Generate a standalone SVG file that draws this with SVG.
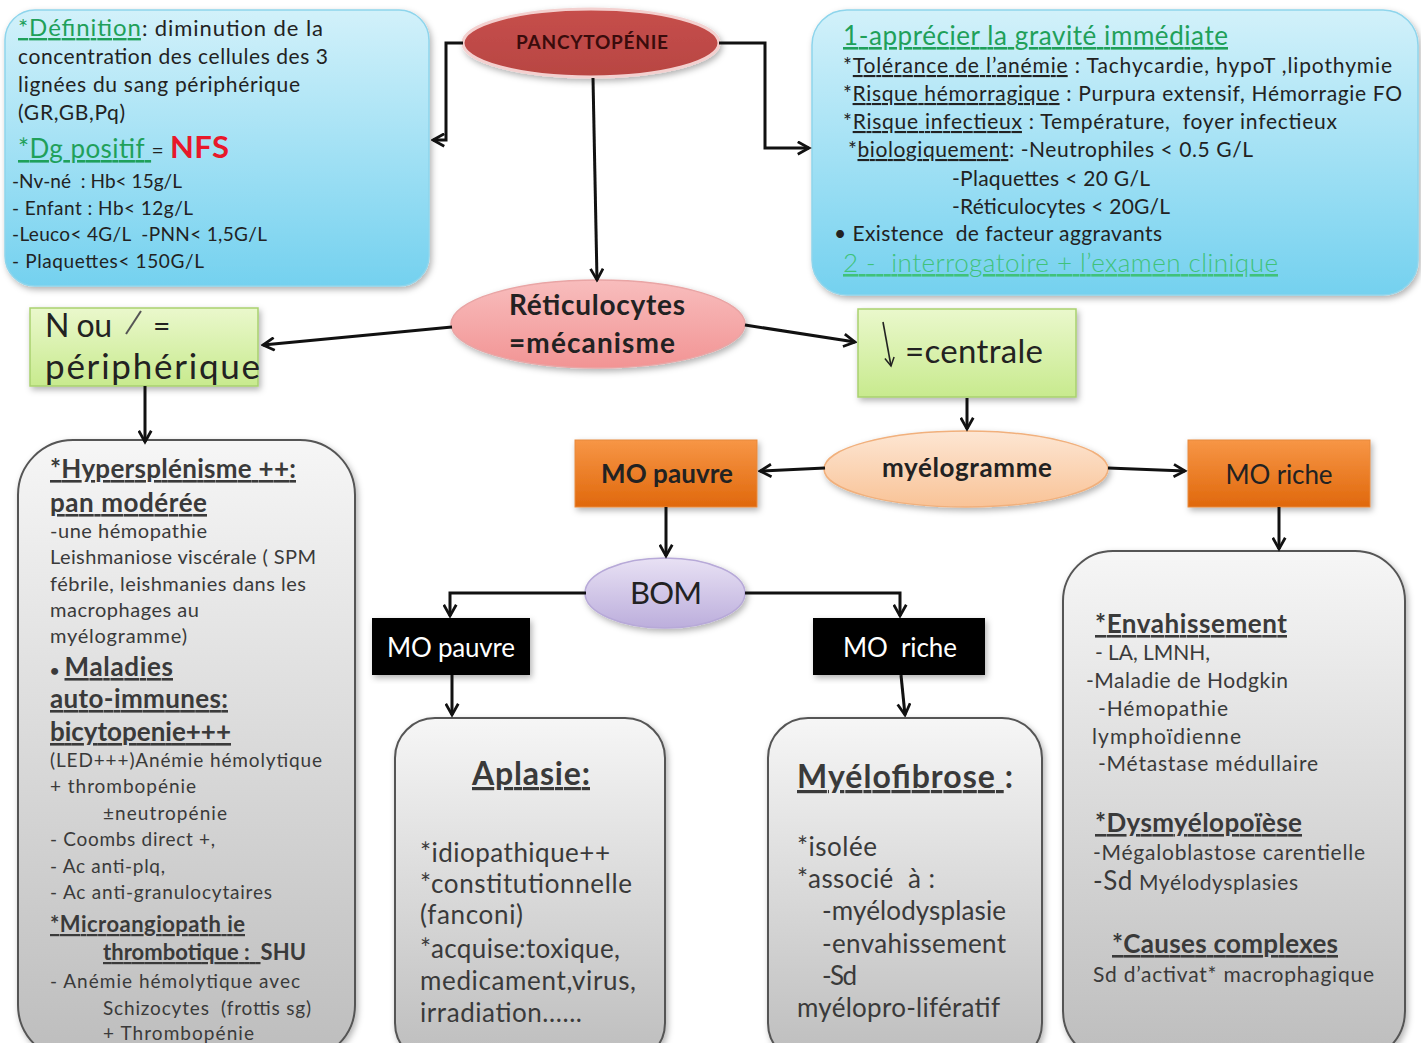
<svg xmlns="http://www.w3.org/2000/svg" width="1421" height="1043" viewBox="0 0 1421 1043">
<defs>
<linearGradient id="gBlue" x1="0" y1="0" x2="0" y2="1"><stop offset="0" stop-color="#d2f1fa"/><stop offset="1" stop-color="#74d1ef"/></linearGradient>
<linearGradient id="gRed" x1="0" y1="0" x2="0" y2="1"><stop offset="0" stop-color="#c64f4c"/><stop offset="1" stop-color="#b84542"/></linearGradient>
<linearGradient id="gPink" x1="0" y1="0" x2="0" y2="1"><stop offset="0" stop-color="#f8bdbd"/><stop offset="1" stop-color="#f29494"/></linearGradient>
<linearGradient id="gGreen" x1="0" y1="0" x2="0" y2="1"><stop offset="0" stop-color="#eaf8cc"/><stop offset="1" stop-color="#c8ea8e"/></linearGradient>
<linearGradient id="gPeach" x1="0" y1="0" x2="0" y2="1"><stop offset="0" stop-color="#fde6d3"/><stop offset="1" stop-color="#f9c397"/></linearGradient>
<linearGradient id="gOrange" x1="0" y1="0" x2="0" y2="1"><stop offset="0" stop-color="#f79646"/><stop offset="1" stop-color="#e0680c"/></linearGradient>
<linearGradient id="gLav" x1="0" y1="0" x2="0" y2="1"><stop offset="0" stop-color="#e8e1f4"/><stop offset="1" stop-color="#bcaedc"/></linearGradient>
<linearGradient id="gGray" x1="0" y1="0" x2="0" y2="1"><stop offset="0" stop-color="#f6f6f6"/><stop offset="1" stop-color="#bdbdbd"/></linearGradient>
<filter id="sh" x="-10%" y="-10%" width="120%" height="125%"><feDropShadow dx="2" dy="3" stdDeviation="3" flood-color="#000" flood-opacity="0.3"/></filter>
<marker id="arr" viewBox="0 0 12 12" refX="10" refY="6" markerWidth="5" markerHeight="5" orient="auto" markerUnits="strokeWidth">
<path d="M1,1 L10,6 L1,11" fill="none" stroke="#111" stroke-width="2.2" stroke-linejoin="miter"/>
</marker>
<marker id="arrs" viewBox="0 0 12 12" refX="10" refY="6" markerWidth="7" markerHeight="7" orient="auto" markerUnits="strokeWidth">
<path d="M1,1 L10,6 L1,11" fill="none" stroke="#222" stroke-width="1.6"/>
</marker>
</defs>
<style>
text{font-family:Lato,"Liberation Sans",sans-serif;fill:#222;}
.b{font-weight:bold;}
.u{text-decoration:underline;}
.g{fill:#1fa05a;}
.gray text,.gray{fill:#3a3a3a;}
.conn{fill:none;stroke:#111;stroke-width:3;marker-end:url(#arr);}
.blue{fill:url(#gBlue);stroke:#8ed5ec;stroke-width:1.5;filter:url(#sh);}
.grey{fill:url(#gGray);stroke:#555;stroke-width:2;filter:url(#sh);}
.green{fill:url(#gGreen);stroke:#a9d16f;stroke-width:1.5;filter:url(#sh);}
.orange{fill:url(#gOrange);stroke:#e88a3c;stroke-width:1;filter:url(#sh);}
.black{fill:#050505;filter:url(#sh);}
</style>

<g id="definition">
<rect class="blue" x="5" y="10" width="424" height="276" rx="30"/>
<text x="18" y="36" font-size="22" textLength="305"><tspan class="g u" font-size="24">*Définition</tspan><tspan>: diminution de la</tspan></text>
<text x="18" y="64" font-size="21" textLength="310">concentration des cellules des 3</text>
<text x="18" y="92" font-size="21" textLength="282">lignées du sang périphérique</text>
<text x="18" y="120" font-size="21" textLength="107">(GR,GB,Pq)</text>
<text x="18" y="158" font-size="26" textLength="211"><tspan class="g u">*Dg positif </tspan><tspan font-size="21"> = </tspan><tspan class="b" style="fill:#e8182a" font-size="31">NFS</tspan></text>
<text x="12" y="188" font-size="19" textLength="170" xml:space="preserve">-Nv-né  : Hb&lt; 15g/L</text>
<text x="12" y="215" font-size="19" textLength="181">- Enfant : Hb&lt; 12g/L</text>
<text x="12" y="241" font-size="19" textLength="255" xml:space="preserve">-Leuco&lt; 4G/L  -PNN&lt; 1,5G/L</text>
<text x="12" y="268" font-size="19" textLength="192">- Plaquettes&lt; 150G/L</text>
</g>

<g id="gravite">
<rect class="blue" x="812" y="10" width="606" height="285" rx="35"/>
<text x="843" y="45" font-size="26" class="g u" textLength="385">1-apprécier la gravité immédiate</text>
<text x="843" y="73" font-size="21" textLength="549">*<tspan class="u">Tolérance de l’anémie</tspan> : Tachycardie, hypoT ,lipothymie</text>
<text x="843" y="101" font-size="21" textLength="559">*<tspan class="u">Risque hémorragique</tspan> : Purpura extensif, Hémorragie FO</text>
<text x="843" y="129" font-size="21" textLength="494" xml:space="preserve">*<tspan class="u">Risque infectieux</tspan> : Température,  foyer infectieux</text>
<text x="848" y="157" font-size="21" textLength="405">*<tspan class="u">biologiquement</tspan>: -Neutrophiles &lt; 0.5 G/L</text>
<text x="952" y="186" font-size="21" textLength="198">-Plaquettes &lt; 20 G/L</text>
<text x="952" y="214" font-size="21" textLength="218">-Réticulocytes &lt; 20G/L</text>
<text x="834" y="241" font-size="21" textLength="328" xml:space="preserve">• Existence  de facteur aggravants</text>
<text x="843" y="272" font-size="26" class="u" style="fill:#3fc27a;font-weight:300" textLength="435" xml:space="preserve">2 -  interrogatoire + l’examen clinique</text>
</g>

<g id="pancytopenie">
<ellipse cx="591" cy="43" rx="128" ry="34" fill="url(#gRed)" stroke="#f3d0cf" stroke-width="3" filter="url(#sh)"/>
<text x="592" y="49" font-size="19" class="b" text-anchor="middle" style="fill:#3a0c0c" textLength="152">PANCYTOPÉNIE</text>
</g>

<g id="reticulocytes">
<ellipse cx="598" cy="324" rx="147" ry="44" fill="url(#gPink)" stroke="#e9a5a5" stroke-width="1.5" filter="url(#sh)"/>
<text x="597" y="315" font-size="28" class="b" text-anchor="middle" textLength="176">Réticulocytes</text>
<text x="592" y="353" font-size="28" class="b" text-anchor="middle" textLength="166">=mécanisme</text>
</g>

<g id="peripherique">
<rect class="green" x="30" y="308" width="228" height="78"/>
<text x="45" y="337" font-size="32" textLength="67">N ou</text>
<line x1="126" y1="334" x2="141" y2="311" stroke="#555" stroke-width="2"/>
<text x="153" y="337" font-size="30">=</text>
<text x="45" y="379" font-size="35" textLength="215">périphérique</text>
</g>

<g id="centrale">
<rect class="green" x="858" y="309" width="218" height="88"/>
<line x1="883" y1="322" x2="891" y2="366" stroke="#222" stroke-width="1.6" marker-end="url(#arrs)"/>
<text x="905" y="363" font-size="33" textLength="138">=centrale</text>
</g>

<g id="myelogramme">
<ellipse cx="966" cy="469" rx="142" ry="38" fill="url(#gPeach)" stroke="#f1b07c" stroke-width="1.5" filter="url(#sh)"/>
<text x="967" y="477" font-size="26" class="b" text-anchor="middle" textLength="170">myélogramme</text>
</g>

<g id="mo-pauvre-myelo">
<rect class="orange" x="575" y="440" width="182" height="67"/>
<text x="667" y="483" font-size="26" class="b" text-anchor="middle" textLength="132">MO pauvre</text>
</g>

<g id="mo-riche-myelo">
<rect class="orange" x="1188" y="440" width="182" height="67"/>
<text x="1279" y="484" font-size="26" text-anchor="middle" textLength="107">MO riche</text>
</g>

<g id="bom">
<ellipse cx="665" cy="593" rx="80" ry="35" fill="url(#gLav)" stroke="#b7a9d8" stroke-width="1.5" filter="url(#sh)"/>
<text x="666" y="604" font-size="31" text-anchor="middle" textLength="72">BOM</text>
</g>

<g id="mo-pauvre-bom">
<rect class="black" x="372" y="618" width="158" height="57"/>
<text x="451" y="657" font-size="26" text-anchor="middle" style="fill:#fff" textLength="128">MO pauvre</text>
</g>

<g id="mo-riche-bom">
<rect class="black" x="813" y="618" width="172" height="57"/>
<text x="900" y="657" font-size="26" text-anchor="middle" style="fill:#fff" xml:space="preserve" textLength="114">MO  riche</text>
</g>

<g id="hypersplenisme" class="gray">
<rect class="grey" x="18" y="440" width="337" height="620" rx="55"/>
<text x="50" y="478" font-size="26" class="b u" textLength="246">*Hypersplénisme ++:</text>
<text x="50" y="512" font-size="26" class="b u" textLength="157">pan modérée</text>
<text x="50" y="538" font-size="20" textLength="157">-une hémopathie</text>
<text x="50" y="564" font-size="20" textLength="266">Leishmaniose viscérale ( SPM</text>
<text x="50" y="591" font-size="20" textLength="256">fébrile, leishmanies dans les</text>
<text x="50" y="617" font-size="20" textLength="149">macrophages au</text>
<text x="50" y="643" font-size="20" textLength="137">myélogramme)</text>
<text x="50" y="676" font-size="26" class="b" textLength="123"><tspan font-size="16">• </tspan><tspan class="u">Maladies</tspan></text>
<text x="50" y="708" font-size="26" class="b u" textLength="178">auto-immunes:</text>
<text x="50" y="741" font-size="26" class="b u" textLength="181">bicytopenie+++</text>
<text x="50" y="767" font-size="19" textLength="272">(LED+++)Anémie hémolytique</text>
<text x="50" y="793" font-size="19" textLength="146">+ thrombopénie</text>
<text x="103" y="820" font-size="19" textLength="124">±neutropénie</text>
<text x="50" y="846" font-size="19" textLength="165">- Coombs direct +,</text>
<text x="50" y="873" font-size="19" textLength="115">- Ac anti-plq,</text>
<text x="50" y="899" font-size="19" textLength="222">- Ac anti-granulocytaires</text>
<text x="50" y="932" font-size="22" class="b u" textLength="195">*Microangiopath ie</text>
<text x="103" y="960" font-size="22" class="b" textLength="203"><tspan class="u" xml:space="preserve">thrombotique :  </tspan>SHU</text>
<text x="50" y="988" font-size="19" textLength="250">- Anémie hémolytique avec</text>
<text x="103" y="1015" font-size="19" xml:space="preserve" textLength="208">Schizocytes  (frottis sg)</text>
<text x="103" y="1040" font-size="19" textLength="151">+ Thrombopénie</text>
</g>

<g id="aplasie" class="gray">
<rect class="grey" x="395" y="718" width="270" height="345" rx="40"/>
<text x="531" y="785" font-size="32" class="b u" text-anchor="middle" textLength="118">Aplasie:</text>
<text x="420" y="862" font-size="26" textLength="190">*idiopathique++</text>
<text x="420" y="893" font-size="26" textLength="212">*constitutionnelle</text>
<text x="420" y="924" font-size="26" textLength="103">(fanconi)</text>
<text x="420" y="958" font-size="26" textLength="200">*acquise:toxique,</text>
<text x="420" y="990" font-size="26" textLength="216">medicament,virus,</text>
<text x="420" y="1022" font-size="26" textLength="162">irradiation......</text>
</g>

<g id="myelofibrose" class="gray">
<rect class="grey" x="768" y="718" width="274" height="345" rx="40"/>
<text x="797" y="788" font-size="32" class="b" textLength="216"><tspan class="u">Myélofibrose </tspan>:</text>
<text x="797" y="856" font-size="26" textLength="80">*isolée</text>
<text x="797" y="888" font-size="26" xml:space="preserve" textLength="138">*associé  à :</text>
<text x="822" y="920" font-size="26" textLength="184">-myélodysplasie</text>
<text x="822" y="953" font-size="26" textLength="184">-envahissement</text>
<text x="822" y="985" font-size="26" textLength="35">-Sd</text>
<text x="797" y="1017" font-size="26" textLength="203">myélopro-lifératif</text>
</g>

<g id="envahissement" class="gray">
<rect class="grey" x="1063" y="551" width="342" height="510" rx="50"/>
<text x="1095" y="633" font-size="26" class="b u" textLength="192">*Envahissement</text>
<text x="1095" y="660" font-size="21" textLength="115">- LA, LMNH,</text>
<text x="1086" y="688" font-size="21" textLength="202">-Maladie de Hodgkin</text>
<text x="1098" y="716" font-size="21" textLength="130">-Hémopathie</text>
<text x="1092" y="744" font-size="21" textLength="149">lymphoïdienne</text>
<text x="1098" y="771" font-size="21" textLength="220">-Métastase médullaire</text>
<text x="1095" y="832" font-size="26" class="b u" textLength="207">*Dysmyélopoïèse</text>
<text x="1093" y="860" font-size="21" textLength="272">-Mégaloblastose carentielle</text>
<text x="1093" y="890" font-size="21" textLength="205"><tspan font-size="26">-Sd</tspan> Myélodysplasies</text>
<text x="1112" y="953" font-size="26" class="b u" textLength="226">*Causes complexes</text>
<text x="1093" y="982" font-size="21" textLength="281">Sd d’activat* macrophagique</text>
</g>

<g id="connectors">
<path class="conn" d="M463,43 H446 V140 H433"/>
<path class="conn" d="M719,43 H765 V148 H809"/>
<path class="conn" d="M593,78 L597,280"/>
<path class="conn" d="M452,327 L263,345"/>
<path class="conn" d="M745,325 L855,342"/>
<path class="conn" d="M145,386 V442"/>
<path class="conn" d="M967,398 V429"/>
<path class="conn" d="M825,468 L760,471"/>
<path class="conn" d="M1108,468 L1185,471"/>
<path class="conn" d="M666,507 V556"/>
<path class="conn" d="M1279,507 V549"/>
<path class="conn" d="M586,593 H450 V616"/>
<path class="conn" d="M745,593 H900 V616"/>
<path class="conn" d="M452,675 V715"/>
<path class="conn" d="M901,675 L905,715"/>
</g>
</svg>
